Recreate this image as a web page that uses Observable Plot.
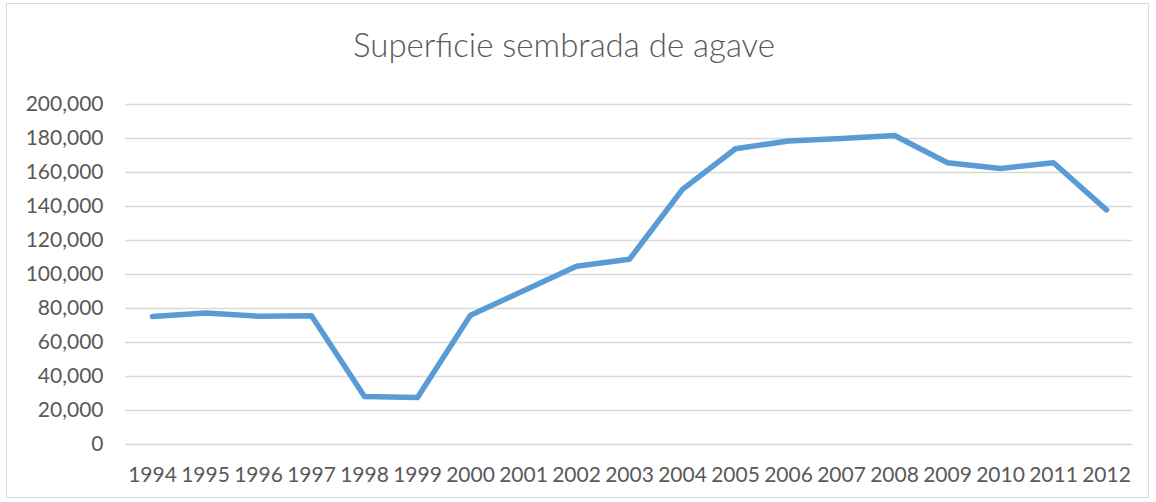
<!DOCTYPE html>
<html><head><meta charset="utf-8">
<script src="https://cdn.jsdelivr.net/npm/d3@7"></script>
<script src="https://cdn.jsdelivr.net/npm/@observablehq/plot@0.6"></script>
<style>
body{margin:0;background:#fff;}
#wrap{position:relative;width:1156px;height:502px;overflow:hidden;font-family:Lato,"Open Sans",sans-serif;}
#frame{position:absolute;left:6px;top:3px;width:1143px;height:495px;border:1px solid #d9d9d9;box-sizing:border-box;pointer-events:none;}
#title{position:absolute;left:0;top:22px;width:1128px;text-align:center;font-size:33px;font-weight:300;color:#595959;line-height:44px;}
#chart{position:absolute;left:0;top:85px;}
</style></head>
<body><div id="wrap"><div id="frame"></div><div id="title">Superficie sembrada de agave</div><div id="chart"></div></div>
<script>
const years = ["1994","1995","1996","1997","1998","1999","2000","2001","2002","2003","2004","2005","2006","2007","2008","2009","2010","2011","2012"];
const area = [75300,77300,75500,75700,28200,27600,76100,90400,104900,109000,150100,174000,178500,180000,181800,165700,162400,165700,138000];
const yTicks = [0,20000,40000,60000,80000,100000,120000,140000,160000,180000,200000];
const data = years.map((y,i)=>({year:y, value:area[i]}));
const fmt = d3.format(",");
const chart = Plot.plot({
  width:1156, height:417,
  marginTop:19, marginBottom:58, marginLeft:125, marginRight:24,
  style:{fontFamily:"Lato, 'Open Sans', sans-serif", fontSize:"21px", color:"#595959", background:"transparent"},
  x:{type:"point", domain:years, padding:0.5, label:null},
  y:{domain:[0,200000], label:null},
  marks:[
    Plot.ruleY(yTicks, {stroke:"#d9d9d9", strokeWidth:1.3}),
    Plot.axisY({ticks:yTicks, tickSize:0, tickPadding:22, tickFormat:fmt, fill:"#595959", fontSize:21, label:null}),
    Plot.axisX({tickSize:0, tickPadding:23, fill:"#595959", fontSize:21, label:null}),
    Plot.line(data, {x:"year", y:"value", stroke:"#5b9bd5", strokeWidth:5.5, strokeLinejoin:"round", strokeLinecap:"round"})
  ]
});
document.getElementById("chart").appendChild(chart);
</script></body></html>
